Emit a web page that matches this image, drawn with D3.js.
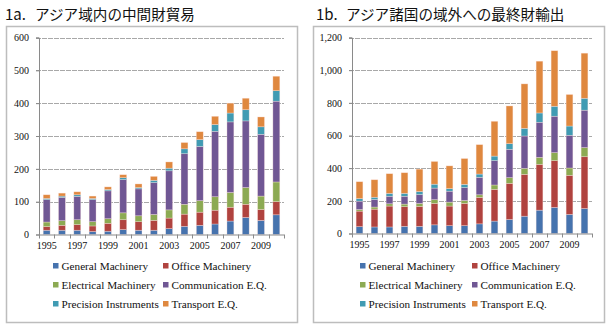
<!DOCTYPE html>
<html>
<head>
<meta charset="utf-8">
<script src="https://cdn.jsdelivr.net/npm/d3@7"></script>
<style>
  html, body { margin: 0; padding: 0; background: #fff; }
  svg { display: block; }
</style>
</head>
<body>
<svg id="chart" width="612" height="328"></svg>
<script>
// Years shared by both panels
const years = [1995,1996,1997,1998,1999,2000,2001,2002,2003,2004,2005,2006,2007,2008,2009,2010];
const yearLabels = years.map(y => (y % 2 === 1 ? String(y) : ""));

const seriesNames = ["General Machinery","Office Machinery","Electrical Machinery",
                     "Communication E.Q.","Precision Instruments","Transport E.Q."];
const seriesColors = ["#4673ae","#b0433f","#8caa53","#705794","#409bb3","#df883f"];

// 1a: intra-Asian trade in intermediate goods
const intraGeneral   = [13,13,13, 9,10,15,13,13,18,25,28,32,41,52,43,60];
const intraOffice    = [11,15,17,17,24,30,26,30,32,37,40,42,42,40,33,40];
const intraElectric  = [14,14,15,13,14,21,18,18,25,30,35,41,45,51,41,60];
const intraComm      = [68,71,71,67,85,101,82,97,119,154,165,199,215,203,188,246];
const intraPrecision = [ 4, 4, 5, 4, 4, 6, 4, 7, 8,15,21,21,27,34,23,32];
const intraTransport = [11, 9, 9, 7, 8, 9,11,12,19,19,24,25,30,35,30,44];
const intraTicks = [0,100,200,300,400,500,600];

// 1b: Asian exports of final goods outside the region
const extraGeneral   = [42,40,40,44,44,53,48,48,59,76,86,106,143,160,117,153];
const extraOffice    = [95,109,128,120,122,131,120,136,162,194,221,256,280,286,239,317];
const extraElectric  = [10,13,14,16,18,23,24,18,16,27,35,37,43,49,45,56];
const extraComm      = [51,46,46,48,54,71,67,79,107,149,173,198,215,223,200,229];
const extraPrecision = [16,14,18,18,19,24,16,20,20,28,35,47,57,61,57,73];
const extraTransport = [103,107,120,126,137,139,139,158,180,213,231,272,317,340,193,276];
const extraTicks = [0,200,400,600,800,1000,1200];

const svg = d3.select("#chart");
const serif = "'Liberation Serif','DejaVu Serif',serif";
const cjk = "'Noto Sans CJK JP','Noto Sans',sans-serif";

function panel(opt) {
  const g = svg.append("g");

  // frame
  g.append("rect")
    .attr("x", opt.box[0] + 0.5).attr("y", opt.box[1] + 0.5)
    .attr("width", opt.box[2]).attr("height", opt.box[3])
    .attr("fill", "#fff").attr("stroke", "#bdbdbd").attr("stroke-width", 1.5);

  // title
  g.append("text").attr("x", opt.titleX[0]).attr("y", 20)
    .attr("font-family", cjk).attr("font-size", 15).attr("fill", "#111")
    .text(opt.prefix);
  g.append("text").attr("x", opt.titleX[1]).attr("y", 20)
    .attr("font-family", cjk).attr("font-size", 14.6).attr("fill", "#111")
    .text(opt.title);

  const x = d3.scaleBand().domain(years).range([opt.x0, opt.x1]).paddingInner(0.55).paddingOuter(0.275);
  const y = d3.scaleLinear().domain([0, opt.max]).range([opt.y0, opt.y1]);

  // gridlines
  g.append("g").selectAll("line").data(opt.ticks.slice(1)).join("line")
    .attr("x1", opt.x0 - 3).attr("x2", opt.x1)
    .attr("y1", d => Math.round(y(d)) + 0.5).attr("y2", d => Math.round(y(d)) + 0.5)
    .attr("stroke", "#a8a8a8").attr("stroke-width", 1).attr("stroke-dasharray", "5,1");

  // stacked bars
  const rows = years.map((yr, i) => {
    const r = { year: yr };
    opt.series.forEach((s, k) => { r[seriesNames[k]] = s[i]; });
    return r;
  });
  const stacked = d3.stack().keys(seriesNames)(rows);
  g.append("g").selectAll("g").data(stacked).join("g")
    .attr("fill", (d, k) => seriesColors[k])
    .selectAll("rect").data(d => d).join("rect")
      .attr("x", d => x(d.data.year))
      .attr("width", x.bandwidth())
      .attr("y", d => y(d[1]))
      .attr("height", d => y(d[0]) - y(d[1]))
      .attr("stroke", "rgba(255,230,225,0.55)").attr("stroke-width", 0.6);

  // y axis
  const yAxis = d3.axisLeft(y).tickValues(opt.ticks).tickSize(3).tickPadding(7)
    .tickFormat(d3.format(","));
  const ya = g.append("g").attr("transform", `translate(${opt.x0},0)`).call(yAxis);
  ya.select(".domain").attr("stroke", "#8a8a8a");
  ya.selectAll(".tick line").attr("stroke", "#8a8a8a");
  ya.selectAll("text").attr("font-family", serif).attr("font-size", 10).attr("fill", "#111");

  // x axis: ticks on category boundaries, labels under alternate years
  const step = x.step();
  const xa = g.append("g").attr("transform", `translate(0,${opt.y0})`);
  xa.append("line").attr("x1", opt.x0).attr("x2", opt.x1).attr("y1", 0.5).attr("y2", 0.5)
    .attr("stroke", "#8a8a8a");
  xa.selectAll("line.tk").data(d3.range(years.length + 1)).join("line").attr("class", "tk")
    .attr("x1", i => Math.round(opt.x0 + i * step) + 0.5).attr("x2", i => Math.round(opt.x0 + i * step) + 0.5)
    .attr("y1", 0).attr("y2", 4).attr("stroke", "#8a8a8a");
  xa.selectAll("text").data(years).join("text")
    .attr("x", d => x(d) + x.bandwidth() / 2).attr("y", 14)
    .attr("text-anchor", "middle")
    .attr("font-family", serif).attr("font-size", 10).attr("fill", "#111")
    .text((d, i) => yearLabels[i]);

  // legend
  const lg = g.append("g");
  seriesNames.forEach((name, k) => {
    const col = k % 2, row = Math.floor(k / 2);
    const lx = opt.legendX[col], ly = 266 + row * 19;
    lg.append("rect").attr("x", lx).attr("y", ly - 3).attr("width", 5.5).attr("height", 5.5)
      .attr("fill", seriesColors[k]);
    lg.append("text").attr("x", lx + 8.5).attr("y", ly + 3.8)
      .attr("font-family", serif).attr("font-size", 11.2).attr("fill", "#111")
      .text(name);
  });
}

panel({
  box: [6, 26, 291, 296], titleX: [5, 35], prefix: "1a.", title: "アジア域内の中間財貿易",
  x0: 39, x1: 284, y0: 234.5, y1: 37.5, max: 600, ticks: intraTicks,
  series: [intraGeneral, intraOffice, intraElectric, intraComm, intraPrecision, intraTransport],
  legendX: [53, 163]
});

panel({
  box: [313, 26, 291, 296], titleX: [316, 346], prefix: "1b.", title: "アジア諸国の域外への最終財輸出",
  x0: 352, x1: 592, y0: 233.5, y1: 37.5, max: 1200, ticks: extraTicks,
  series: [extraGeneral, extraOffice, extraElectric, extraComm, extraPrecision, extraTransport],
  legendX: [360, 472]
});
</script>
</body>
</html>
